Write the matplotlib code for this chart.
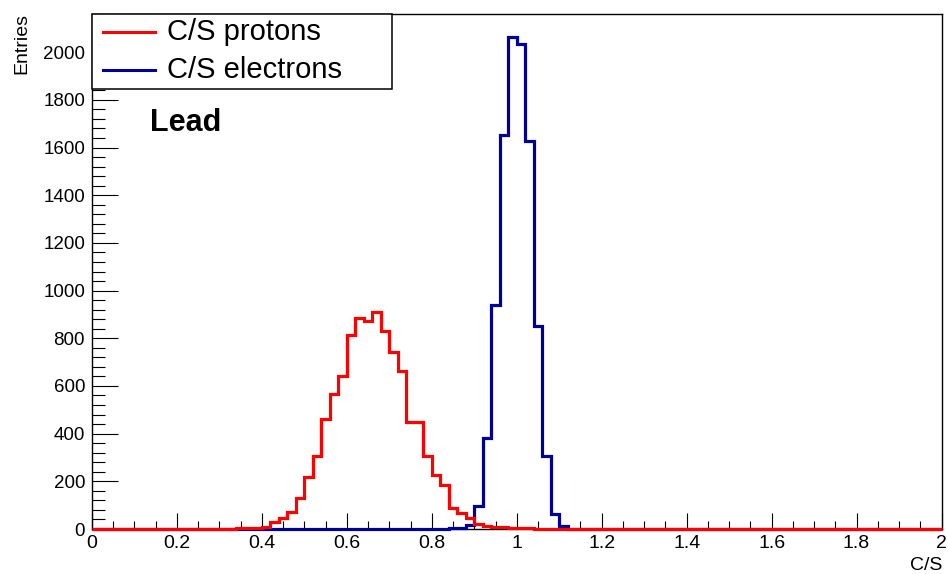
import matplotlib
matplotlib.use("Agg")
import matplotlib.pyplot as plt
from matplotlib.lines import Line2D
from matplotlib.patches import Rectangle
from matplotlib.ticker import MultipleLocator
import numpy as np

plt.rcParams["font.family"] = ["Liberation Sans", "DejaVu Sans"]

# 100 bins of width 0.02 between 0 and 2
bin_edges = np.linspace(0.0, 2.0, 101)

protons = [0] * 14 + [
    1, 2, 2, 3, 5, 6,                                   # 0.28 - 0.40
    10, 28, 45, 73, 129, 220, 308, 460, 568, 641,       # 0.40 - 0.60
    815, 883, 873, 911, 832, 741, 664, 450, 450, 308,   # 0.60 - 0.80
    225, 184, 87, 66, 46, 21, 14, 10, 7, 5,             # 0.80 - 1.00
    4, 3, 2, 2, 1, 1,                                   # 1.00 - 1.12
] + [0] * 44

electrons = [0] * 21 + [1] * 20 + [
    2, 4, 6, 16, 96, 380, 939, 1652, 2062,              # 0.82 - 1.00
    2034, 1627, 852, 306, 63, 14, 2,                    # 1.00 - 1.14
] + [0] * 43

labels = ["C/S protons", "C/S electrons"]
colors = ["#ff0000", "#000099"]

W, H = 948, 574
fig = plt.figure(figsize=(W / 100, H / 100), dpi=100)
fig.patch.set_facecolor("white")

# axes frame in pixels: left 92, right 941.5, top 14, bottom 529
ax = fig.add_axes([92 / W, 1 - 529 / H, (941.5 - 92) / W, (529 - 14) / H])

ax.stairs(electrons, bin_edges, color=colors[1], linewidth=2.3, clip_on=False, zorder=3)
ax.stairs(protons, bin_edges, color=colors[0], linewidth=2.3, clip_on=False, zorder=4)

ax.set_xlim(0, 2)
ax.set_ylim(0, 2160)

ax.xaxis.set_minor_locator(MultipleLocator(0.05))
ax.yaxis.set_minor_locator(MultipleLocator(40))
xt = np.round(np.arange(0, 2.01, 0.2), 1)
ax.set_xticks(xt)
ax.set_xticklabels([f"{v:g}" for v in xt])
ax.set_yticks(np.arange(0, 2001, 200))

ax.tick_params(axis="both", which="both", direction="in", top=False, right=False,
               width=0.8, color="black")
ax.tick_params(axis="x", which="major", length=11.5, pad=4, labelsize=14)
ax.tick_params(axis="x", which="minor", length=6)
ax.tick_params(axis="y", which="major", length=18.5, pad=5, labelsize=13.5)
ax.tick_params(axis="y", which="minor", length=9.5)

for sp in ax.spines.values():
    sp.set_linewidth(1.0)
    sp.set_color("black")

# axis titles placed at the ends, ROOT style
fig.text(942 / W, 1 - 570 / H, "C/S", ha="right", va="baseline", fontsize=14)
fig.text(22 / W, 1 - 13 / H, "Entries", ha="center", va="top", rotation=90, fontsize=14)

fig.text(150 / W, 1 - 131.5 / H, "Lead", ha="left", va="baseline",
         fontsize=22, fontweight="bold")

# legend box drawn by hand to keep the ROOT proportions
x0, x1 = 92 / W, 392 / W
y0, y1 = 1 - 89 / H, 1 - 14 / H
fig.add_artist(Rectangle((x0, y0), x1 - x0, y1 - y0, transform=fig.transFigure,
                         facecolor="white", edgecolor="black", linewidth=1.1, zorder=10))
for row_y, lab, col in zip([32, 70], labels, colors):
    fy = 1 - row_y / H
    fig.add_artist(Line2D([103 / W, 155 / W], [fy, fy], transform=fig.transFigure,
                          color=col, linewidth=2.2, zorder=11))
    fig.text(167 / W, fy, lab, ha="left", va="center", fontsize=21, zorder=11)

fig.savefig("out.png", dpi=100)
